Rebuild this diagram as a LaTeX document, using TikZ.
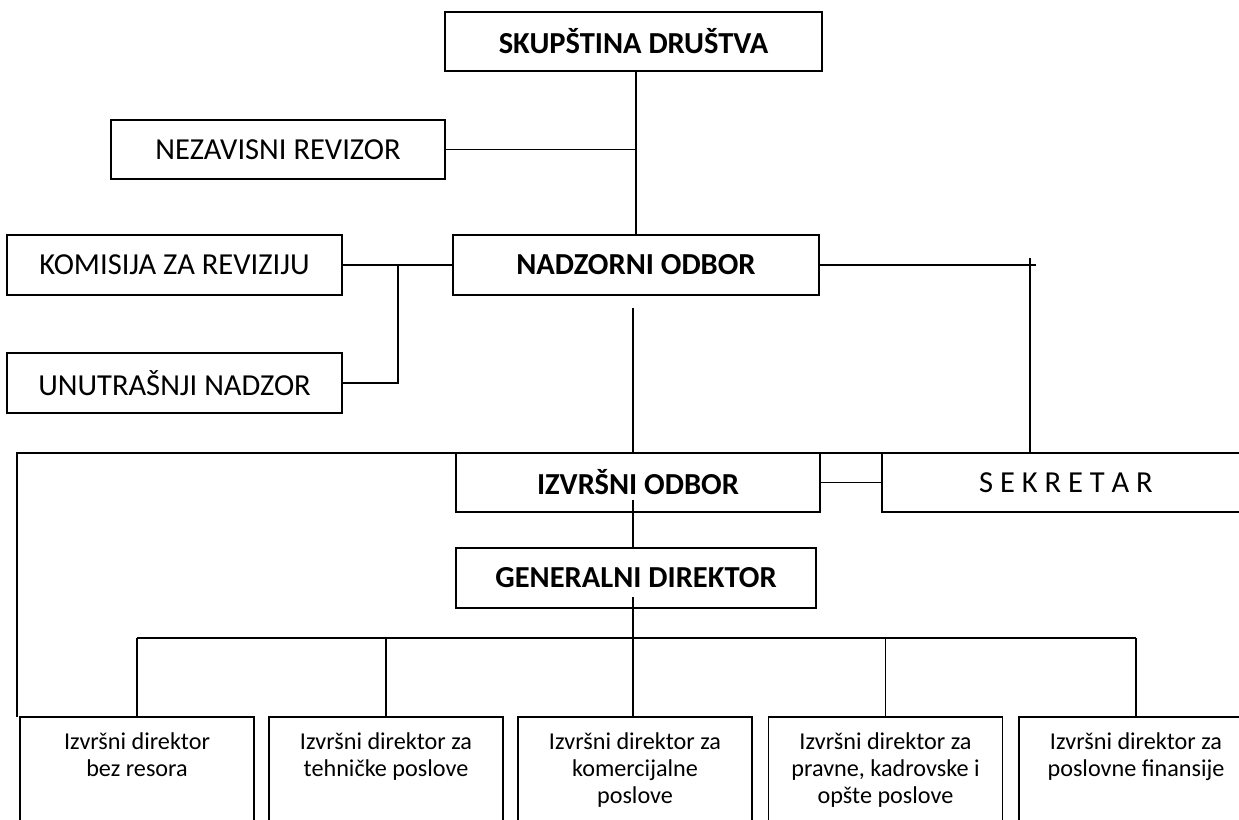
\documentclass[tikz,border=0pt]{standalone}
\usepackage{fontspec}
\setmainfont{Carlito}
\usetikzlibrary{positioning, calc}

\tikzset{
  orgbox/.style={draw=black, line width=1.2pt, inner sep=0pt, outer sep=0pt, align=center, font=\fontsize{21.7}{25}\selectfont},
  dirbox/.style={draw=black, line width=1.2pt, inner sep=0pt, outer sep=0pt, minimum width=5.85cm, minimum height=3.075cm},
  dirtext/.style={align=center, inner sep=0pt, anchor=north, font=\fontsize{17.2}{19.5}\selectfont},
  link/.style={draw=black, line width=1pt}
}

\begin{document}
\begin{tikzpicture}[x=0.025cm, y=-0.025cm]
    \useasboundingbox (0,0) rectangle (1239,820);
    \clip (0,0) rectangle (1239,820);

    % --- Gornji nivo ---
    \node[orgbox, minimum width=9.425cm, minimum height=1.475cm] (skup) at (633.5,41.5) {\textbf{SKUPŠTINA DRUŠTVA}};
    \node[orgbox, minimum width=8.35cm, minimum height=1.475cm] (nezav) at (278,149.5) {NEZAVISNI REVIZOR};

    % Nadzorni odbor i komisije
    \node[orgbox, minimum width=9.15cm, minimum height=1.5cm] (nadz) at (636,265) {\textbf{NADZORNI ODBOR}};
    \node[orgbox, minimum width=8.375cm, minimum height=1.5cm] (komis) at (174.5,265) {KOMISIJA ZA REVIZIJU};
    \node[orgbox, minimum width=8.375cm, minimum height=1.5cm] (unut) at (174.5,383) {UNUTRAŠNJI NADZOR};

    % Izvršni odbor, sekretar, generalni direktor
    \node[orgbox, minimum width=9.1cm, minimum height=1.475cm] (izvr) at (638,482.5) {\textbf{IZVRŠNI ODBOR}};
    \node[orgbox, minimum width=9.2cm, minimum height=1.475cm] (sekr) at (1066,482.5) {S E K R E T A R};
    \node[orgbox, minimum width=9cm, minimum height=1.5cm] (gen) at (636,578) {\textbf{GENERALNI DIREKTOR}};

    % --- Izvršni direktori ---
    \node[dirbox] (b1) at (137,778.5) {};
    \node[dirbox] (b2) at (386,778.5) {};
    \node[dirbox] (b3) at (635,778.5) {};
    \node[dirbox] (b4) at (885.5,778.5) {};
    \node[dirbox] (b5) at (1136,778.5) {};
    \node[dirtext] (t1) at ($(b1.north)+(0,15)$) {Izvršni direktor\\bez resora};
    \node[dirtext] (t2) at ($(b2.north)+(0,15)$) {Izvršni direktor za\\tehničke poslove};
    \node[dirtext] (t3) at ($(b3.north)+(0,15)$) {Izvršni direktor za\\komercijalne\\poslove};
    \node[dirtext] (t4) at ($(b4.north)+(0,15)$) {Izvršni direktor za\\pravne, kadrovske i\\opšte poslove};
    \node[dirtext] (t5) at ($(b5.north)+(0,15)$) {Izvršni direktor za\\poslovne finansije};

    % --- Veze ---
    \coordinate (kj) at (398,265);
    \coordinate (sjend) at (1036,265);
    \coordinate (sjtop) at (1030,258);
    \coordinate (nadzgap) at (633,308);
    \coordinate (lleft) at (17,717);
    \coordinate (izvrgap) at (633,500);
    \coordinate (gengap) at (633,597);
    \coordinate (busl) at (137,638);
    \coordinate (busr) at (1136,638);

    \draw[link] (nadz.north) -- (skup.south -| nadz.north);
    \draw[link] (nezav.east) -- (nezav.east -| nadz.north);
    \draw[link] (komis.east) -- (nadz.west);
    \draw[link] (kj) |- (unut.east);
    \draw[link] (nadz.east) -- (sjend);
    \draw[link] (sjtop) -- (sekr.north -| sjtop);
    \draw[link] (nadzgap) -- (nadzgap |- izvr.north);
    \draw[link] (izvr.north west) -| (lleft);
    \draw[link] (izvr.north east) -- (sekr.north west);
    \draw[link] (izvr.east) -- (sekr.west);
    \draw[link] (izvrgap) -- (izvrgap |- gen.north);
    \draw[link] (gengap) -- (gengap |- b3.north);
    \draw[link] (busl) -- (busr);
    \draw[link] (b1.north) -- (b1.north |- busl);
    \draw[link] (b2.north) -- (b2.north |- busl);
    \draw[link] (b4.north) -- (b4.north |- busl);
    \draw[link] (b5.north) -- (b5.north |- busl);
\end{tikzpicture}
\end{document}
